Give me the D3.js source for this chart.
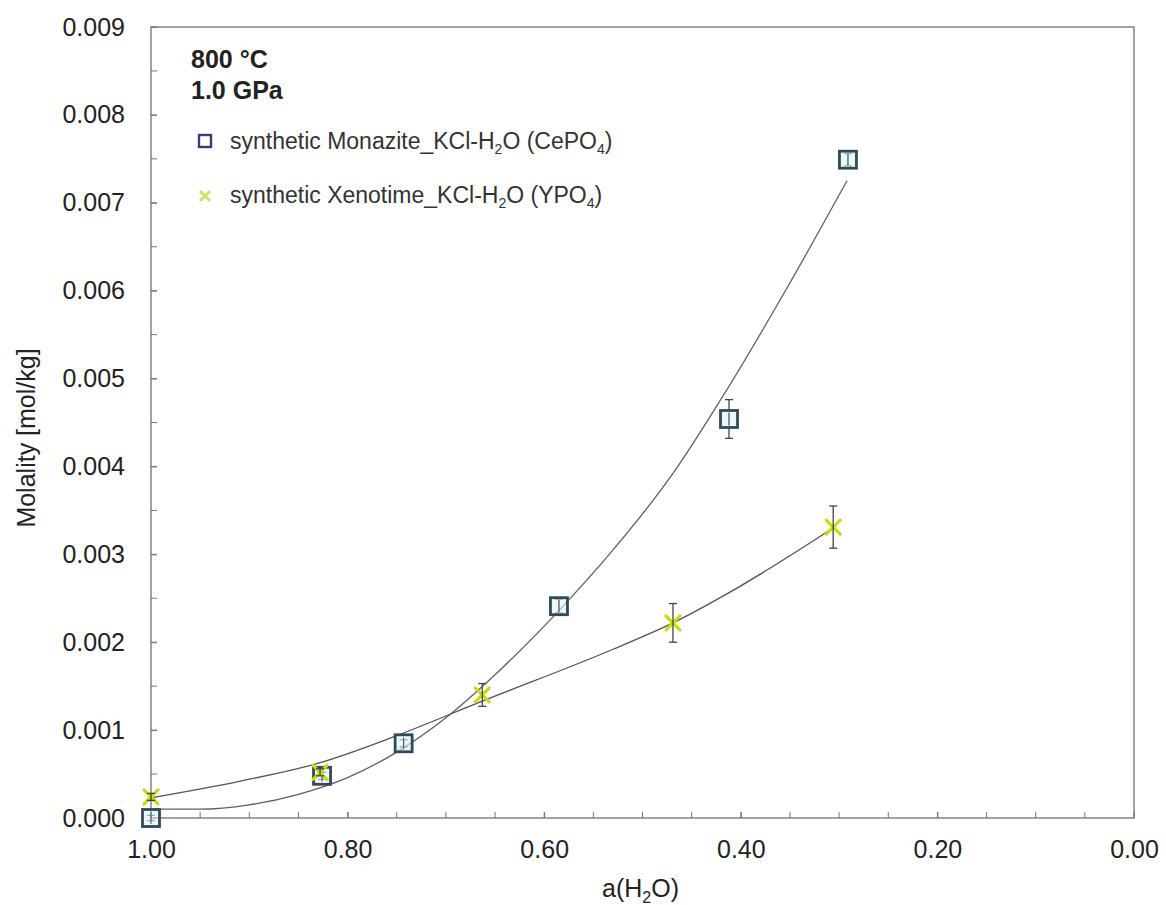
<!DOCTYPE html>
<html><head><meta charset="utf-8">
<script src="https://cdn.jsdelivr.net/npm/d3@7"></script>
<style>body{margin:0;background:#fff}svg text{font-family:"Liberation Sans",Arial,sans-serif}</style>
</head><body><svg id="c" width="1166" height="905"></svg>
<script>
// Data
const monaziteA = [1.00, 0.826, 0.743, 0.585, 0.412, 0.291];
const monaziteM = [0.0000, 0.00048, 0.00085, 0.00241, 0.00454, 0.00749];
const monaziteErr = [0.00003, 0.00004, 0.00004, 0.00008, 0.00022, 0.00007];
const xenotimeA = [1.00, 0.828, 0.663, 0.469, 0.306];
const xenotimeM = [0.00024, 0.00052, 0.00140, 0.00222, 0.00331];
const xenotimeErr = [0.00004, 0.00004, 0.00013, 0.00022, 0.00024];
// fitted trend curves
const monFitA = [1.00, 0.95, 0.90, 0.85, 0.80, 0.75, 0.70, 0.65, 0.585, 0.533, 0.469, 0.421, 0.353, 0.292];
const monFitM = [0.00010, 0.00010, 0.00015, 0.00027, 0.00046, 0.00075, 0.00114, 0.00163, 0.00236, 0.00301, 0.00392, 0.00475, 0.00603, 0.00725];
const xenFitA = [1.00, 0.909, 0.828, 0.754, 0.663, 0.53, 0.469, 0.411, 0.306];
const xenFitM = [0.00023, 0.00042, 0.00063, 0.00092, 0.00133, 0.00192, 0.00222, 0.00257, 0.0033];
const xTicks = [1.0, 0.8, 0.6, 0.4, 0.2, 0.0];
const yTicks = [0, 0.001, 0.002, 0.003, 0.004, 0.005, 0.006, 0.007, 0.008, 0.009];
const legendLabels = ["synthetic Monazite_KCl-H", "synthetic Xenotime_KCl-H"];

const svg = d3.select("#c");
const L = 151, R = 1134, T = 27, B = 818;
const x = d3.scaleLinear().domain([1, 0]).range([L, R]);
const y = d3.scaleLinear().domain([0, 0.009]).range([B, T]);

// frame
svg.append("rect").attr("x", L).attr("y", T).attr("width", R - L).attr("height", B - T)
  .attr("fill", "none").attr("stroke", "#666").attr("stroke-width", 1.2);

// minor ticks
const xMinor = d3.range(0, 21).map(i => i * 0.05);
svg.append("g").selectAll("line").data(xMinor).join("line")
  .attr("x1", d => x(d)).attr("x2", d => x(d)).attr("y1", B).attr("y2", B - 6)
  .attr("stroke", "#777").attr("stroke-width", 1);
const yMinor = d3.range(0, 19).map(i => i * 0.0005);
svg.append("g").selectAll("line").data(yMinor).join("line")
  .attr("x1", L).attr("x2", L + 6).attr("y1", d => y(d)).attr("y2", d => y(d))
  .attr("stroke", "#777").attr("stroke-width", 1);

// axes labels via d3 axes (no domain, ticks inward)
const xAxis = svg.append("g").attr("transform", `translate(0,${B})`)
  .call(d3.axisBottom(x).tickValues(xTicks).tickFormat(d3.format(".2f")).tickSize(-6).tickPadding(22));
xAxis.select(".domain").remove();
xAxis.selectAll("line").attr("stroke", "#777");
xAxis.selectAll("text").attr("font-size", 25).attr("fill", "#222").attr("font-family", "Liberation Sans, Arial");
const yAxis = svg.append("g").attr("transform", `translate(${L},0)`)
  .call(d3.axisLeft(y).tickValues(yTicks).tickFormat(d3.format(".3f")).tickSize(-6).tickPadding(26));
yAxis.select(".domain").remove();
yAxis.selectAll("line").attr("stroke", "#777");
yAxis.selectAll("text").attr("font-size", 25).attr("fill", "#222").attr("font-family", "Liberation Sans, Arial");

// axis titles
const xt = svg.append("text").attr("x", (L + R) / 2 - 2).attr("y", 897).attr("text-anchor", "middle")
  .attr("font-size", 25).attr("fill", "#222");
xt.append("tspan").text("a(H");
xt.append("tspan").text("2").attr("font-size", 16).attr("dy", 6);
xt.append("tspan").text("O)").attr("dy", -6);
svg.append("text").attr("transform", "translate(35,438) rotate(-90)").attr("text-anchor", "middle")
  .attr("font-size", 25).attr("fill", "#222").text("Molality [mol/kg]");

// curves
const line = d3.line().x(d => x(d[0])).y(d => y(d[1])).curve(d3.curveMonotoneX);
svg.append("path").datum(monFitA.map((a, i) => [a, monFitM[i]])).attr("d", line)
  .attr("fill", "none").attr("stroke", "#6a5c60").attr("stroke-width", 1.3);
svg.append("path").datum(xenFitA.map((a, i) => [a, xenFitM[i]])).attr("d", line)
  .attr("fill", "none").attr("stroke", "#555").attr("stroke-width", 1.3);

function errBars(A, M, E) {
  const g = svg.append("g").attr("stroke", "#444").attr("stroke-width", 1.3);
  A.forEach((a, i) => {
    const cx = x(a), y1 = y(M[i] - E[i]), y2 = y(M[i] + E[i]);
    g.append("line").attr("x1", cx).attr("x2", cx).attr("y1", y1).attr("y2", y2);
    g.append("line").attr("x1", cx - 4).attr("x2", cx + 4).attr("y1", y1).attr("y2", y1);
    g.append("line").attr("x1", cx - 4).attr("x2", cx + 4).attr("y1", y2).attr("y2", y2);
  });
}

// monazite squares
errBars(monaziteA, monaziteM, monaziteErr);
svg.append("g").selectAll("rect").data(monaziteA.map((a, i) => [a, monaziteM[i]])).join("rect")
  .attr("x", d => x(d[0]) - 8.5).attr("y", d => y(d[1]) - 8.5).attr("width", 17).attr("height", 17)
  .attr("fill", "#dff2f8").attr("fill-opacity", 0.6).attr("stroke", "#2f4b58").attr("stroke-width", 2.8);
svg.append("g").selectAll("line").data(monaziteA.map((a, i) => [a, monaziteM[i]])).join("line")
  .attr("x1", d => x(d[0])).attr("x2", d => x(d[0])).attr("y1", d => y(d[1]) - 6).attr("y2", d => y(d[1]) + 6)
  .attr("stroke", "#555").attr("stroke-width", 1);

// xenotime crosses
const xg = svg.append("g").attr("stroke", "#c9da10").attr("stroke-width", 3.2).attr("stroke-linecap", "round");
xenotimeA.forEach((a, i) => {
  const cx = x(a), cy = y(xenotimeM[i]), s = 7;
  xg.append("line").attr("x1", cx - s).attr("x2", cx + s).attr("y1", cy - s).attr("y2", cy + s);
  xg.append("line").attr("x1", cx - s).attr("x2", cx + s).attr("y1", cy + s).attr("y2", cy - s);
});
errBars(xenotimeA, xenotimeM, xenotimeErr);

// header text
svg.append("text").attr("x", 191).attr("y", 68).attr("font-size", 25).attr("font-weight", "bold").attr("fill", "#222").text("800 °C");
svg.append("text").attr("x", 191).attr("y", 99).attr("font-size", 25).attr("font-weight", "bold").attr("fill", "#222").text("1.0 GPa");

// legend
svg.append("rect").attr("x", 199).attr("y", 135).attr("width", 12).attr("height", 12)
  .attr("fill", "none").attr("stroke", "#3c3c74").attr("stroke-width", 2.4);
const lx = 205, ly = 196;
svg.append("line").attr("x1", lx - 5).attr("x2", lx + 5).attr("y1", ly - 5).attr("y2", ly + 5).attr("stroke", "#d3e06a").attr("stroke-width", 2.8);
svg.append("line").attr("x1", lx - 5).attr("x2", lx + 5).attr("y1", ly + 5).attr("y2", ly - 5).attr("stroke", "#d3e06a").attr("stroke-width", 2.8);

const suffixes = [["O (CePO", ")"], ["O (YPO", ")"]];
[149, 203].forEach((yy, i) => {
  const t = svg.append("text").attr("x", 230).attr("y", yy).attr("font-size", 23).attr("fill", "#333");
  t.append("tspan").text(legendLabels[i]);
  t.append("tspan").text("2").attr("font-size", 14).attr("dy", 5);
  t.append("tspan").text(suffixes[i][0]).attr("dy", -5);
  t.append("tspan").text("4").attr("font-size", 14).attr("dy", 5);
  t.append("tspan").text(suffixes[i][1]).attr("dy", -5);
});
</script></body></html>
